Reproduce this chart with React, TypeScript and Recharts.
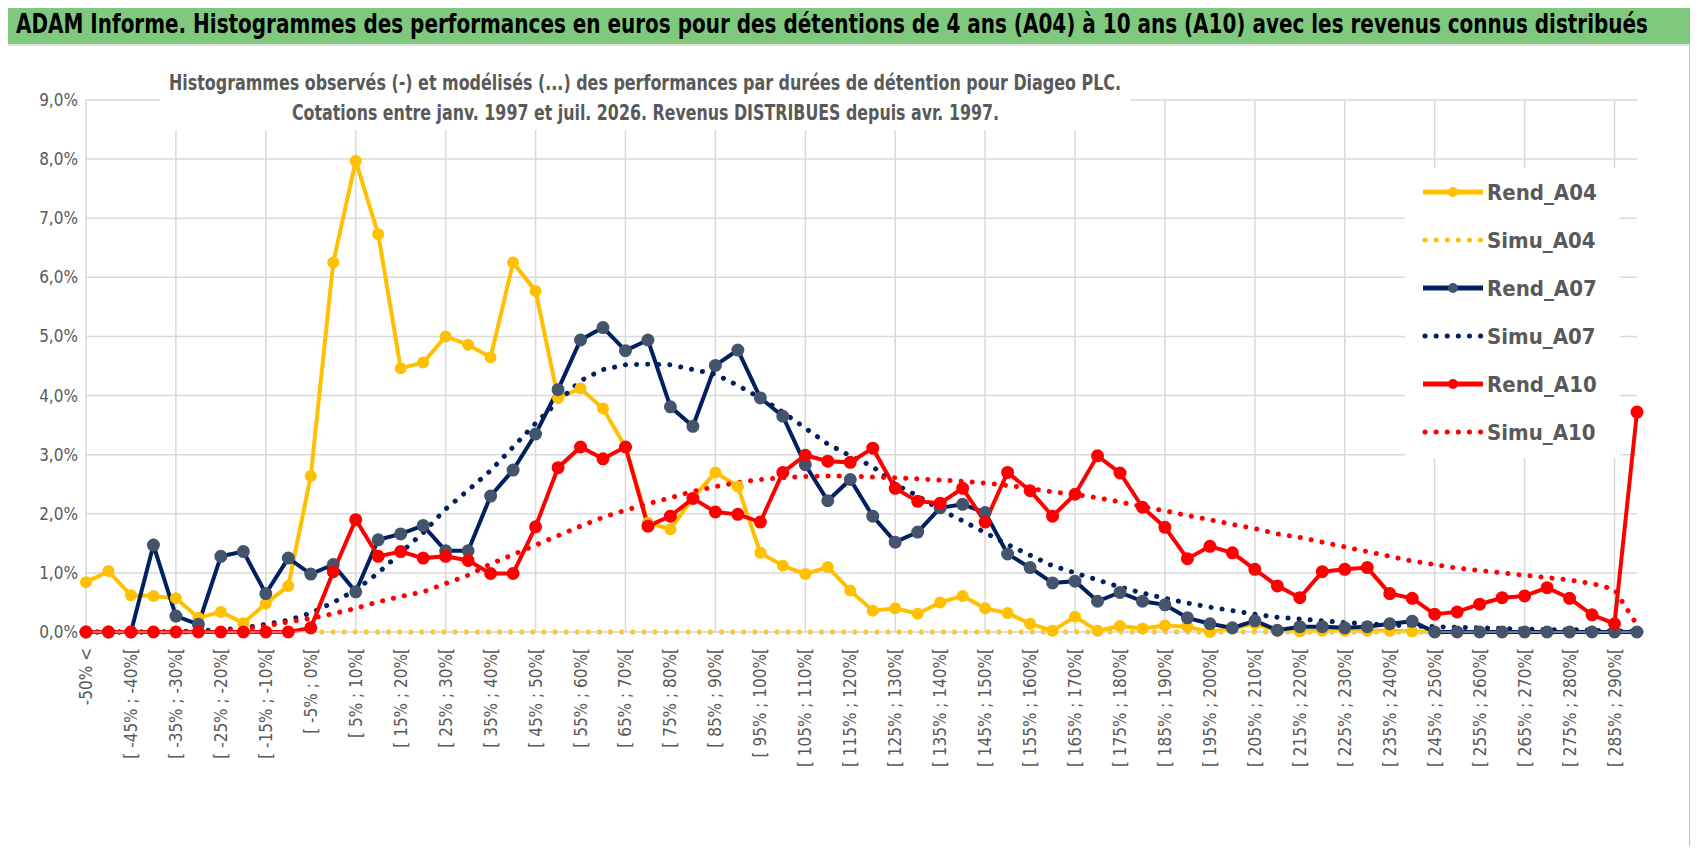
import React from "react";
import { LineChart, Line, XAxis, YAxis, CartesianGrid, ReferenceLine } from "recharts";

const categories: string[] = ["-50% <"];
for (let k = 1; k < 70; k++) {
  const a = -50 + 5 * (k - 1);
  categories.push(`[ ${a}% ; ${a + 5}%[`);
}

const rendA04 = [0.84,1.03,0.62,0.61,0.57,0.24,0.34,0.15,0.48,0.78,
2.64,6.25,7.97,6.73,4.46,4.56,5.0,4.86,4.65,6.25,
5.77,3.96,4.12,3.78,3.13,1.85,1.74,2.27,2.70,2.46,
1.34,1.12,0.98,1.10,0.70,0.36,0.40,0.31,0.50,0.61,
0.40,0.32,0.14,0.02,0.26,0.02,0.10,0.06,0.11,0.09,
0.0,0.06,0.14,0.02,0.01,0.02,0.02,0.02,0.02,0.01,
0,0,0,0,0,0,0,0,0,0];
const simuA04 = [null,null,null,null,null,null,null,null,null,null,
0,0,0,0,0,0,0,0,0,0, 0,0,0,0,0,0,0,0,0,0, 0,0,0,0,0,0,0,0,0,0,
0,0,0,0,0,0,0,0,0,0, 0,0,0,0,0,0,0,0,0,0, 0,0,0,0,0,0,0,0,0,0];
const rendA07 = [0,0,0,1.47,0.27,0.13,1.28,1.36,0.65,1.25,
0.98,1.14,0.68,1.56,1.66,1.80,1.375,1.375,2.30,2.74,
3.35,4.1,4.94,5.15,4.76,4.94,3.81,3.48,4.51,4.77,
3.96,3.65,2.83,2.22,2.58,1.96,1.52,1.69,2.10,2.16,
2.02,1.32,1.09,0.83,0.86,0.52,0.67,0.52,0.46,0.24,
0.14,0.07,0.19,0.03,0.09,0.09,0.07,0.09,0.14,0.18,
0,0,0,0,0,0,0,0,0,0];
const simuA07 = [0,0,0,0,0.01,0.02,0.04,0.07,0.13,0.2,
0.32,0.5,0.71,1.0,1.34,1.68,2.08,2.4,2.73,3.13,
3.53,3.9,4.25,4.44,4.52,4.53,4.52,4.44,4.36,4.17,
3.96,3.72,3.45,3.18,2.98,2.8,2.5,2.3,2.07,1.88,
1.68,1.48,1.3,1.12,1.0,0.88,0.76,0.66,0.57,0.49,
0.42,0.36,0.30,0.25,0.22,0.19,0.16,0.14,0.12,0.10,
0.09,0.08,0.07,0.06,0.05,0.04,0.04,0.03,0.02,0.01];
const rendA10 = [0,0,0,0,0,0,0,0,0,0,
0.07,1.02,1.90,1.28,1.36,1.25,1.28,1.21,0.99,0.99,
1.78,2.78,3.13,2.93,3.13,1.79,1.96,2.26,2.03,1.99,
1.86,2.70,2.99,2.89,2.87,3.11,2.43,2.21,2.18,2.43,
1.86,2.70,2.39,1.96,2.33,2.98,2.69,2.11,1.77,1.24,
1.45,1.34,1.06,0.78,0.58,1.02,1.06,1.09,0.65,0.57,
0.30,0.34,0.47,0.58,0.61,0.75,0.57,0.29,0.14,3.72];
const simuA10 = [0,0,0,0,0,0,0.02,0.05,0.1,0.17,
0.23,0.31,0.40,0.51,0.6,0.68,0.82,0.96,1.15,1.31,
1.47,1.63,1.79,1.94,2.06,2.17,2.27,2.38,2.46,2.53,
2.58,2.61,2.63,2.64,2.64,2.62,2.61,2.59,2.57,2.55,
2.52,2.48,2.43,2.37,2.33,2.27,2.2,2.12,2.05,1.97,
1.9,1.82,1.75,1.66,1.6,1.52,1.44,1.36,1.28,1.2,
1.14,1.08,1.04,1.0,0.96,0.92,0.88,0.82,0.72,0.12];

const yTicks = [0,1,2,3,4,5,6,7,8,9];

const data = categories.map((c, i) => ({
  cat: c, rendA04: rendA04[i], simuA04: simuA04[i], rendA07: rendA07[i],
  simuA07: simuA07[i], rendA10: rendA10[i], simuA10: simuA10[i],
}));

const FONT = "'DejaVu Sans Condensed', 'Liberation Sans Narrow', 'Open Sans', sans-serif";
const YEL = "#FFC000", NAVY = "#002060", RED = "#FF0000";

const XTick = (p: any) => {
  const { x, y, payload } = p;
  return (
    <text x={x} y={y + 8} transform={`rotate(-90 ${x} ${y + 8})`} textAnchor="end" dominantBaseline="central"
      fontSize={17} fill="#595959" fontFamily={FONT}>{payload.value}</text>
  );
};

const legendItems = [
  { name: "Rend_A04", color: YEL, dotted: false },
  { name: "Simu_A04", color: YEL, dotted: true },
  { name: "Rend_A07", color: NAVY, dotted: false, dot: "#44546A" },
  { name: "Simu_A07", color: NAVY, dotted: true },
  { name: "Rend_A10", color: RED, dotted: false },
  { name: "Simu_A10", color: RED, dotted: true },
];

export default function App() {
  const dotted = { strokeDasharray: "0.1 11", strokeLinecap: "round" as const, strokeWidth: 5 };
  return (
    <div style={{ margin: -8, position: "relative", width: 1698, height: 854, background: "#fff", fontFamily: FONT }}>
      <div style={{ position: "absolute", left: 0, top: 0, width: 1698, height: 44, background: "#7FC97F", borderBottom: "2px solid #e0e0e0" }} />
      <div style={{ position: "absolute", left: 0, top: 46, width: 1688, height: 800, border: "1px solid #bfbfbf", borderTop: "none" }} />
      <div style={{ position: "absolute", left: 0, top: 0 }}>
        <LineChart width={1698} height={854} data={data} margin={{ top: 100, right: 61, bottom: 192, left: 6 }}>
          <CartesianGrid vertical={false} stroke="#d9d9d9" strokeWidth={1.5} />
          {categories.map((c, i) => i % 4 === 0 ? <ReferenceLine key={c} x={c} stroke="#d9d9d9" strokeWidth={1.5} /> : null)}
          <XAxis dataKey="cat" interval={1} tick={<XTick />} tickLine={false} axisLine={{ stroke: "#d9d9d9" }} />
          <YAxis width={80} domain={[0, 9]} ticks={yTicks} tickLine={false} axisLine={false}
            tickFormatter={(v: number) => v.toFixed(1).replace(".", ",") + "%"}
            tick={{ fontSize: 17, fill: "#595959", fontFamily: FONT }} />
          <Line dataKey="rendA04" stroke={YEL} strokeWidth={4} dot={{ r: 4, fill: YEL, stroke: YEL }} isAnimationActive={false} />
          <Line dataKey="simuA04" stroke={YEL} {...dotted} dot={false} isAnimationActive={false} />
          <Line dataKey="rendA07" stroke={NAVY} strokeWidth={4} dot={{ r: 4.5, fill: "#44546A", stroke: "#44546A" }} isAnimationActive={false} />
          <Line dataKey="simuA07" stroke={NAVY} {...dotted} dot={false} isAnimationActive={false} />
          <Line dataKey="rendA10" stroke={RED} strokeWidth={4} dot={{ r: 4.5, fill: RED, stroke: RED }} isAnimationActive={false} />
          <Line dataKey="simuA10" stroke={RED} {...dotted} dot={false} isAnimationActive={false} />
        </LineChart>
      </div>
      <div style={{ position: "absolute", left: 160, top: 64, width: 970, height: 66, background: "#fff" }} />
      <svg style={{ position: "absolute", left: 0, top: 0 }} width={1698} height={140}>
        <text x={16} y={23} dominantBaseline="central" fontSize={27} fontWeight={700} fill="#000" fontFamily={FONT}
          textLength={1632} lengthAdjust="spacingAndGlyphs">
          ADAM Informe. Histogrammes des performances en euros pour des détentions de 4 ans (A04) à 10 ans (A10) avec les revenus connus distribués
        </text>
        <text x={169} y={83} dominantBaseline="central" fontSize={21} fontWeight={700} fill="#595959" fontFamily={FONT}
          textLength={952} lengthAdjust="spacingAndGlyphs">
          Histogrammes observés (-) et modélisés (...) des performances par durées de détention pour Diageo PLC.
        </text>
        <text x={292} y={113} dominantBaseline="central" fontSize={21} fontWeight={700} fill="#595959" fontFamily={FONT}
          textLength={707} lengthAdjust="spacingAndGlyphs">
          Cotations entre janv. 1997 et juil. 2026. Revenus DISTRIBUES depuis avr. 1997.
        </text>
      </svg>
      <div style={{ position: "absolute", left: 1405, top: 168, width: 215, height: 290, background: "#fff" }}>
        <svg width={215} height={290}>
          {legendItems.map((it, i) => {
            const y = 24 + i * 48;
            return (
              <g key={it.name}>
                {it.dotted ? (
                  <line x1={20} x2={76} y1={y} y2={y} stroke={it.color} strokeWidth={5} strokeDasharray="0.1 11" strokeLinecap="round" />
                ) : (
                  <>
                    <line x1={18} x2={78} y1={y} y2={y} stroke={it.color} strokeWidth={5} />
                    <circle cx={48} cy={y} r={5} fill={it.dot || it.color} />
                  </>
                )}
                <text x={82} y={y} dominantBaseline="central" fontSize={22} fontWeight={700} fill="#595959" fontFamily={FONT}>{it.name}</text>
              </g>
            );
          })}
        </svg>
      </div>
    </div>
  );
}
